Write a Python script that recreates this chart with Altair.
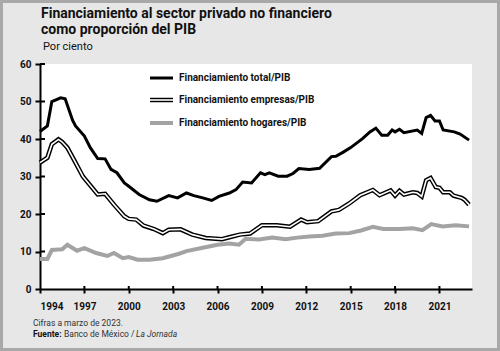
import altair as alt
import pandas as pd

# ---- data ----
years_total = [1994.0, 1994.5, 1994.8, 1995.4, 1995.7, 1996.2, 1996.4, 1997.0, 1997.4, 1997.9,
               1998.4, 1998.8, 1999.2, 1999.7, 2000.0, 2000.7, 2001.4, 2001.9, 2002.7, 2003.3,
               2003.9, 2004.4, 2005.0, 2005.6, 2006.1, 2006.8, 2007.25, 2007.7, 2008.3, 2008.9,
               2009.2, 2009.5, 2010.1, 2010.7, 2011.1, 2011.5, 2012.2, 2012.9, 2013.7, 2014.0,
               2014.5, 2015.0, 2015.8, 2016.3, 2016.7, 2017.1, 2017.5, 2017.8, 2018.0, 2018.3,
               2018.6, 2019.5, 2019.8, 2020.1, 2020.4, 2020.7, 2021.0, 2021.25, 2022.0, 2022.4,
               2023.0]
total = [42.0, 43.5, 50.0, 51.0, 50.7, 45.0, 43.5, 40.8, 37.7, 34.8,
         34.7, 31.9, 31.0, 28.3, 27.4, 25.2, 23.8, 23.4, 24.9, 24.3,
         25.6, 24.9, 24.3, 23.6, 24.7, 25.6, 26.5, 28.5, 28.3, 31.0,
         30.5, 31.0, 30.1, 30.1, 30.8, 32.1, 31.9, 32.2, 35.3, 35.4,
         36.5, 37.7, 40.1, 41.9, 42.9, 41.0, 41.0, 42.4, 41.9, 42.6,
         41.7, 42.4, 41.5, 45.7, 46.3, 44.8, 44.8, 42.4, 41.9, 41.3,
         39.7]

years_emp = [1994.0, 1994.5, 1994.8, 1995.25, 1995.5, 1995.85, 1996.4, 1996.9, 1997.9, 1998.4,
             1999.0, 1999.7, 2000.0, 2000.5, 2001.0, 2001.7, 2002.3, 2002.7, 2003.5, 2004.3,
             2005.2, 2006.3, 2006.8, 2007.5, 2008.2, 2009.0, 2010.0, 2010.9, 2011.65, 2012.05,
             2012.8, 2013.7, 2014.2, 2014.9, 2015.65, 2016.5, 2016.95, 2017.7, 2018.0, 2018.3,
             2018.6, 2019.2, 2019.5, 2019.8, 2020.1, 2020.4, 2020.75, 2021.0, 2021.25, 2021.7,
             2021.95, 2022.5, 2022.7, 2023.0]
empresas = [33.7, 35.0, 38.6, 39.9, 39.2, 37.7, 33.7, 30.0, 25.2, 25.4,
            22.5, 19.4, 18.7, 18.5, 16.9, 16.0, 14.9, 15.8, 15.9, 14.5,
            13.6, 13.3, 13.8, 14.5, 14.8, 17.0, 17.0, 16.6, 18.5, 17.8,
            18.1, 20.7, 21.1, 22.8, 25.0, 26.4, 25.0, 26.3, 24.9, 26.2,
            25.2, 25.8, 25.6, 24.7, 29.0, 29.6, 27.2, 27.0, 25.8, 25.8,
            24.9, 24.3, 23.8, 22.5]

years_hog = [1994.0, 1994.5, 1994.8, 1995.5, 1995.85, 1996.5, 1997.0, 1997.8, 1998.55, 1999.0,
             1999.6, 2000.0, 2000.6, 2001.4, 2002.3, 2003.4, 2003.9, 2005.0, 2006.0, 2006.8,
             2007.45, 2007.9, 2008.8, 2009.7, 2010.6, 2011.4, 2012.2, 2013.1, 2014.0, 2014.9,
             2015.7, 2016.5, 2017.2, 2018.3, 2019.2, 2019.85, 2020.45, 2021.2, 2022.1, 2023.0]
hogares = [8.0, 8.0, 10.4, 10.6, 11.8, 10.2, 10.9, 9.6, 8.8, 9.6,
           8.2, 8.5, 7.8, 7.8, 8.2, 9.4, 10.1, 11.0, 11.8, 12.1,
           11.8, 13.4, 13.2, 13.7, 13.3, 13.7, 14.0, 14.2, 14.8, 14.9,
           15.6, 16.6, 16.0, 16.0, 16.2, 15.7, 17.3, 16.7, 17.0, 16.7]

x_ticks = [1994, 1997, 2000, 2003, 2006, 2009, 2012, 2015, 2018, 2021]
y_ticks = [0, 10, 20, 30, 40, 50, 60]

series_names = ["Financiamiento total/PIB", "Financiamiento empresas/PIB",
                "Financiamiento hogares/PIB"]
title_1 = "Financiamiento al sector privado no financiero"
title_2 = "como proporción del PIB"
subtitle = "Por ciento"
note = "Cifras a marzo de 2023."
source_bold = "Fuente:"
source_regular = "Banco de México /"
source_italic = "La Jornada"

W, H = 432, 225
FONT = "Roboto"

df_total = pd.DataFrame({"year": years_total, "value": total})
df_emp = pd.DataFrame({"year": years_emp, "value": empresas})
df_hog = pd.DataFrame({"year": years_hog, "value": hogares})


def xenc(field="year"):
    return alt.X(f"{field}:Q", scale=alt.Scale(domain=[1994, 2023.2], nice=False, zero=False),
                 axis=alt.Axis(values=x_ticks, format="d", title=None, grid=False,
                               domainColor="black", domainWidth=2, tickColor="black",
                               tickWidth=2, tickSize=4, labelFont=FONT, labelFontSize=10,
                               labelFontWeight="bold", labelColor="#111", labelPadding=8))


def yenc(field="value"):
    return alt.Y(f"{field}:Q", scale=alt.Scale(domain=[0, 60], nice=False),
                 axis=alt.Axis(values=y_ticks, title=None, grid=False,
                               domainColor="black", domainWidth=2, tickColor="black",
                               tickWidth=2, tickSize=5, labelFont=FONT, labelFontSize=10,
                               labelFontWeight="bold", labelColor="#111", labelPadding=4))


hog_line = alt.Chart(df_hog).mark_line(color="#a3a3a3", strokeWidth=4).encode(x=xenc(), y=yenc())
emp_outer = alt.Chart(df_emp).mark_line(color="black", strokeWidth=4.5).encode(x=xenc(), y=yenc())
emp_inner = alt.Chart(df_emp).mark_line(color="white", strokeWidth=1.6).encode(x=xenc(), y=yenc())
tot_line = alt.Chart(df_total).mark_line(color="black", strokeWidth=3).encode(x=xenc(), y=yenc())

# inner halves of the crossing ticks
ytk = pd.DataFrame({"value": y_ticks[1:]})
ytick_in = alt.Chart(ytk).mark_rule(color="black", strokeWidth=2).encode(
    y=yenc(), x=alt.value(0), x2=alt.value(5))
xtk = pd.DataFrame({"year": x_ticks[1:]})
xtick_in = alt.Chart(xtk).mark_rule(color="black", strokeWidth=2).encode(
    x=xenc(), y=alt.value(H), y2=alt.value(H - 3))

# legend (manual)
leg_y = [14, 36, 59]
leg = []
leg.append(alt.Chart(pd.DataFrame({"t": [series_names[0]]})).mark_rule(color="black", strokeWidth=3).encode(
    x=alt.value(110), x2=alt.value(133), y=alt.value(leg_y[0])))
leg.append(alt.Chart(pd.DataFrame({"t": [series_names[1]]})).mark_rule(color="black", strokeWidth=4.5).encode(
    x=alt.value(110), x2=alt.value(133), y=alt.value(leg_y[1])))
leg.append(alt.Chart(pd.DataFrame({"t": [series_names[1]]})).mark_rule(color="white", strokeWidth=1.6).encode(
    x=alt.value(110), x2=alt.value(133), y=alt.value(leg_y[1])))
leg.append(alt.Chart(pd.DataFrame({"t": [series_names[2]]})).mark_rule(color="#a3a3a3", strokeWidth=4).encode(
    x=alt.value(110), x2=alt.value(133), y=alt.value(leg_y[2])))
for name, yy in zip(series_names, leg_y):
    leg.append(alt.Chart(pd.DataFrame({"t": [name]})).mark_text(
        align="left", baseline="middle", font=FONT, fontSize=10, fontWeight="bold", color="#111").encode(
        text="t:N", x=alt.value(139), y=alt.value(yy)))


def txt(s, x, y, size, weight="normal", style="normal", color="#111"):
    return alt.Chart(pd.DataFrame({"t": [s]})).mark_text(
        align="left", baseline="alphabetic", font=FONT, fontSize=size, fontWeight=weight,
        fontStyle=style, color=color).encode(text="t:N", x=alt.value(x), y=alt.value(y))


texts = [
    txt(title_1, 1, -46, 14, "bold"),
    txt(title_2, 1, -30, 14, "bold"),
    txt(subtitle, 3, -14, 11),
    txt(note, -7, 262, 8.5, color="#333"),
    txt(source_bold, -7, 273, 8.5, "bold"),
    txt(source_regular, 24, 273, 8.5, color="#333"),
    txt(source_italic, 96, 273, 8.5, style="italic", color="#333"),
]

frame = alt.Chart(pd.DataFrame({"t": ["frame"]})).mark_rect(
    fill="transparent", stroke="#a8a8a8", strokeWidth=3).encode(
    x=alt.value(-38.5), x2=alt.value(458.5), y=alt.value(-62.5), y2=alt.value(285.5))

chart = alt.layer(hog_line, emp_outer, emp_inner, tot_line, ytick_in, xtick_in,
                  *leg, *texts, frame).properties(
    width=W, height=H,
    padding={"left": 40, "top": 64, "right": 28, "bottom": 62},
    autosize=alt.AutoSizeParams(type="none"),
    background="#e7e7e7",
).configure_view(fill="white", stroke=None)

chart.save("out.html", embed_options={"renderer": "svg", "actions": False})
